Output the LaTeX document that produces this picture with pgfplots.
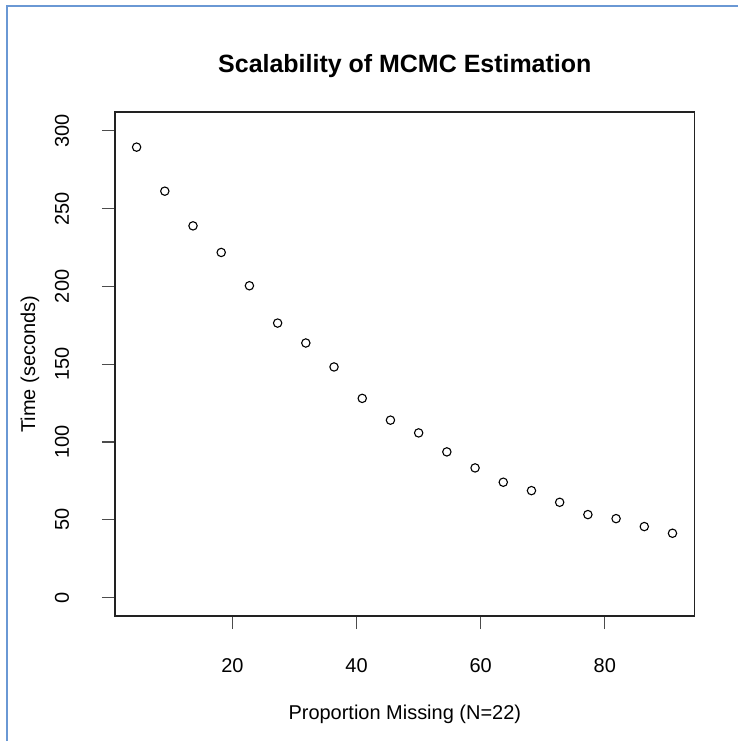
\documentclass[border=0pt]{standalone}
\usepackage{fontspec}
\setmainfont{Liberation Sans}
\usepackage{pgfplots}
\pgfplotsset{compat=1.18}
\definecolor{framecol}{HTML}{6A98D4}
\definecolor{axisink}{HTML}{222222}
\begin{document}
\begin{tikzpicture}
% page: 739x742 px at 0.5pt per px
\path (0,0) rectangle (369.5pt,371pt);
\draw[framecol, line width=1pt] (3.5pt,0) -- (3.5pt,368pt) -- (369.5pt,368pt);
\begin{axis}[
  at={(57.5pt,62.5pt)}, anchor=south west,
  scale only axis, width=290.35pt, height=252.35pt,
  xmin=1.04, xmax=94.5, ymin=-12, ymax=312,
  xtick={20,40,60,80}, ytick={0,50,...,300},
  xtick pos=bottom, ytick pos=left,
  tick align=outside, major tick length=6.5pt,
  tick style={color=black!70, line width=0.6pt},
  axis line style={color=axisink, line width=0.7pt},
  /pgf/number format/assume math mode=true,
  tick label style={font=\fontsize{10}{12}\selectfont},
  xticklabel shift=11.2pt,
  yticklabel style={rotate=90, anchor=south},
  yticklabel shift=12.9pt,
  title={Scalability of MCMC Estimation},
  title style={at={(rel axis cs:0.5,1)}, anchor=center, yshift=17.1pt,
    font=\fontsize{12.5}{14}\selectfont\bfseries},
  xlabel={Proportion Missing (N=22)},
  ylabel={Time (seconds)},
  every axis x label/.style={at={(rel axis cs:0.5,0)}, anchor=center, yshift=-49pt,
    font=\fontsize{10}{12}\selectfont},
  every axis y label/.style={at={(rel axis cs:0,0.5)}, anchor=center, xshift=-42.5pt,
    rotate=90, font=\fontsize{10}{12}\selectfont},
]
\addplot[only marks, mark=o, mark size=2.1pt, mark options={line width=0.55pt, draw=black}]
  coordinates {
    (4.545,289.5) (9.091,261.2) (13.636,238.9) (18.182,221.8) (22.727,200.4)
    (27.273,176.4) (31.818,163.6) (36.364,148.2) (40.909,128.0) (45.455,114.0)
    (50.000,105.8) (54.545,93.6) (59.091,83.3) (63.636,74.1) (68.182,68.7)
    (72.727,61.2) (77.273,53.3) (81.818,50.7) (86.364,45.6) (90.909,41.3)
  };
\end{axis}
\end{tikzpicture}
\end{document}
